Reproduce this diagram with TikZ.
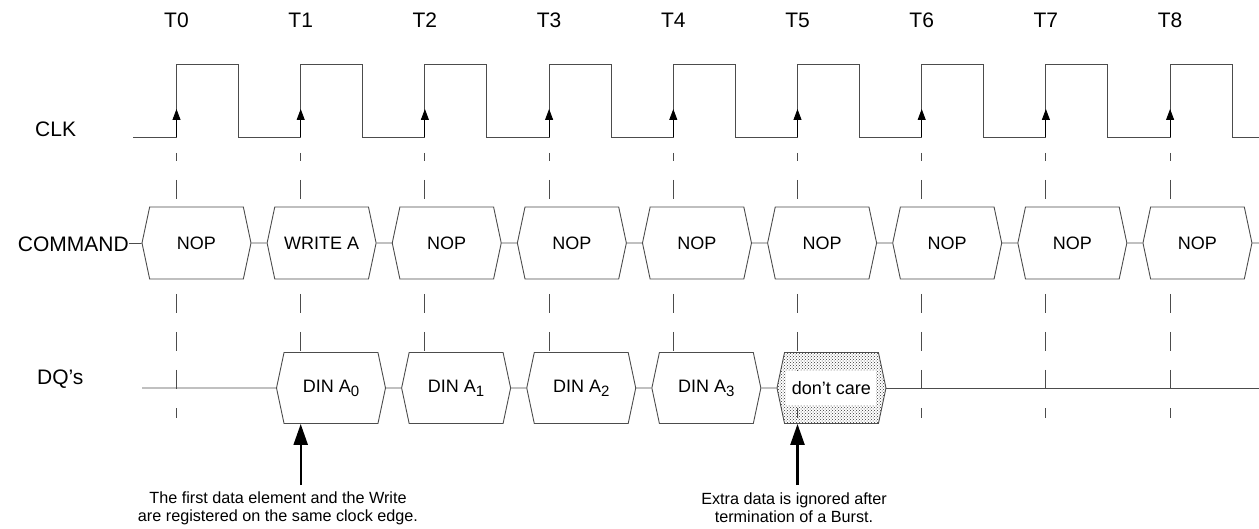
\documentclass[tikz,border=0pt]{standalone}
\usepackage{fontspec}
\setmainfont{Liberation Sans}
\usetikzlibrary{positioning}
\usetikzlibrary{calc}
\usetikzlibrary{patterns}
\usetikzlibrary{shapes.symbols}
\usetikzlibrary{arrows.meta}

\newcommand{\dsub}[1]{\raisebox{-4pt}{\fontsize{15}{15}\selectfont #1}}

\tikzset{
  sig/.style={draw=black!70, line width=0.9pt},
  gridline/.style={draw=black!70, line width=0.9pt, dash pattern=on 19pt off 19pt, dash phase=11pt},
  edgetip/.style={draw=black, line width=0.9pt, -{Triangle[length=11pt,width=8pt]}},
  bigarrow/.style={draw=black, line width=2.4pt, -{Triangle[length=21pt,width=14pt]}},
  lbl/.style={inner sep=0pt, font=\fontsize{21}{21}\selectfont},
  cmd/.style={signal, signal to=west and east, signal pointer angle=156,
    draw=black!70, fill=white, line width=0.9pt, minimum width=109pt,
    minimum height=72pt, inner sep=0pt, font=\fontsize{18}{18}\selectfont},
  dq/.style={cmd, minimum height=71pt},
  note/.style={align=center, inner sep=0pt, font=\fontsize{16.2}{18}\selectfont}
}

\begin{document}
\begin{tikzpicture}[x=1pt, y=-1pt]
\useasboundingbox (0,0) rectangle (1259,529);

% clock edge labels
\node[lbl] (t0) at (176.5,20) {T0};
\node[lbl] (t1) at ($(t0)+(124.2,0)$) {T1};
\node[lbl] (t2) at ($(t1)+(124.2,0)$) {T2};
\node[lbl] (t3) at ($(t2)+(124.2,0)$) {T3};
\node[lbl] (t4) at ($(t3)+(124.2,0)$) {T4};
\node[lbl] (t5) at ($(t4)+(124.2,0)$) {T5};
\node[lbl] (t6) at ($(t5)+(124.2,0)$) {T6};
\node[lbl] (t7) at ($(t6)+(124.2,0)$) {T7};
\node[lbl] (t8) at ($(t7)+(124.2,0)$) {T8};

\node[lbl, anchor=west] (clk) at (35,129) {CLK};
\node[lbl, anchor=east] (cmdlbl) at (129,244) {COMMAND};
\node[lbl, anchor=west] (dqlbl) at (37,379) {DQ's};

\coordinate (high) at (0,64);
\coordinate (low) at (0,137);
\coordinate (tip) at (0,109);
\coordinate (top) at (0,153);
\coordinate (bot) at (0,418);
\coordinate (abot) at (0,485);

% clock
\draw[sig] (133,137) -- (t0 |- low)
  |- ($(t0 |- high)+(62,0)$) |- (t1 |- low)
  |- ($(t1 |- high)+(62,0)$) |- (t2 |- low)
  |- ($(t2 |- high)+(62,0)$) |- (t3 |- low)
  |- ($(t3 |- high)+(62,0)$) |- (t4 |- low)
  |- ($(t4 |- high)+(62,0)$) |- (t5 |- low)
  |- ($(t5 |- high)+(62,0)$) |- (t6 |- low)
  |- ($(t6 |- high)+(62,0)$) |- (t7 |- low)
  |- ($(t7 |- high)+(62,0)$) |- (t8 |- low)
  |- ($(t8 |- high)+(62,0)$) |- (1259,137);

\draw[edgetip] (t0 |- low) -- (t0 |- tip);
\draw[edgetip] (t1 |- low) -- (t1 |- tip);
\draw[edgetip] (t2 |- low) -- (t2 |- tip);
\draw[edgetip] (t3 |- low) -- (t3 |- tip);
\draw[edgetip] (t4 |- low) -- (t4 |- tip);
\draw[edgetip] (t5 |- low) -- (t5 |- tip);
\draw[edgetip] (t6 |- low) -- (t6 |- tip);
\draw[edgetip] (t7 |- low) -- (t7 |- tip);
\draw[edgetip] (t8 |- low) -- (t8 |- tip);

\draw[gridline] (t0 |- top) -- (t0 |- bot);
\draw[gridline] (t1 |- top) -- (t1 |- bot);
\draw[gridline] (t2 |- top) -- (t2 |- bot);
\draw[gridline] (t3 |- top) -- (t3 |- bot);
\draw[gridline] (t4 |- top) -- (t4 |- bot);
\draw[gridline] (t5 |- top) -- (t5 |- bot);
\draw[gridline] (t6 |- top) -- (t6 |- bot);
\draw[gridline] (t7 |- top) -- (t7 |- bot);
\draw[gridline] (t8 |- top) -- (t8 |- bot);

% command bus
\node[cmd] (c0) at (196.5,243) {NOP};
\node[cmd, right=15.2pt of c0] (c1) {WRITE A};
\node[cmd, right=15.2pt of c1] (c2) {NOP};
\node[cmd, right=15.2pt of c2] (c3) {NOP};
\node[cmd, right=15.2pt of c3] (c4) {NOP};
\node[cmd, right=15.2pt of c4] (c5) {NOP};
\node[cmd, right=15.2pt of c5] (c6) {NOP};
\node[cmd, right=15.2pt of c6] (c7) {NOP};
\node[cmd, right=15.2pt of c7] (c8) {NOP};
\coordinate (cend) at (1259,243);

\draw[sig] (cmdlbl) -- (c0);
\draw[sig] (c0) -- (c1);
\draw[sig] (c1) -- (c2);
\draw[sig] (c2) -- (c3);
\draw[sig] (c3) -- (c4);
\draw[sig] (c4) -- (c5);
\draw[sig] (c5) -- (c6);
\draw[sig] (c6) -- (c7);
\draw[sig] (c7) -- (c8);
\draw[sig] (c8) -- (cend);

% data bus
\coordinate (dqstart) at (142,388);
\node[dq] (d0) at (331,388) {DIN A\dsub{0}};
\node[dq, right=15.2pt of d0] (d1) {DIN A\dsub{1}};
\node[dq, right=15.2pt of d1] (d2) {DIN A\dsub{2}};
\node[dq, right=15.2pt of d2] (d3) {DIN A\dsub{3}};
\node[dq, pattern=crosshatch dots, pattern color=black!80, right=15.2pt of d3] (dc) {};
\node[fill=white, minimum width=90pt, minimum height=34pt, inner sep=0pt,
  font=\fontsize{18}{18}\selectfont] (dctxt) at (dc) {don't care};
\coordinate (dqend) at (1259,388);

\draw[sig] (dqstart) -- (d0);
\draw[sig] (d0) -- (d1);
\draw[sig] (d1) -- (d2);
\draw[sig] (d2) -- (d3);
\draw[sig] (d3) -- (dc);
\draw[sig] (dc) -- (dqend);

% notes
\node[note] (note0) at (278,508) {The first data element and the Write\\are registered on the same clock edge.};
\node[note] (note1) at (794,508) {Extra data is ignored after\\termination of a Burst.};
\draw[bigarrow] (t1 |- abot) -- (t1 |- d0.south);
\draw[bigarrow] (t5 |- abot) -- (t5 |- dc.south);
\end{tikzpicture}
\end{document}
